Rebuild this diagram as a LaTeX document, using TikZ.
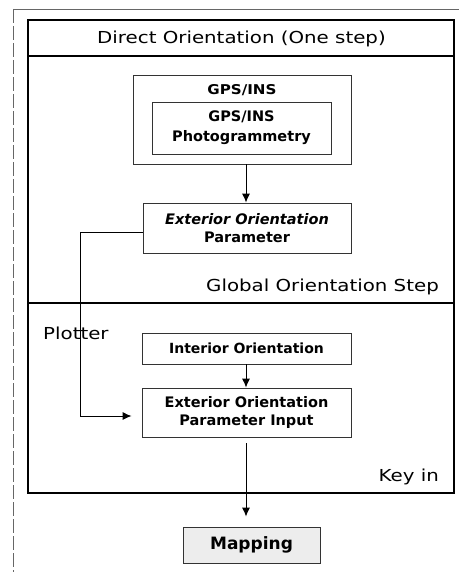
\documentclass[tikz,border=0pt]{standalone}
\usepackage{fontspec}
\setmainfont{DejaVu Sans}
\usetikzlibrary{arrows.meta}
\newcommand{\widetxt}[1]{\scalebox{1.2}[1]{#1}}
\tikzset{
  frame/.style={draw=black, line width=1.3pt},
  box/.style={draw=black!80, line width=0.9pt, inner sep=0pt, align=center},
  lbl/.style={inner sep=0pt, font=\fontsize{16.5}{18}\selectfont},
  bt/.style={font=\fontsize{14.5}{18}\selectfont\bfseries},
  arr/.style={-{Latex[length=9pt,width=8pt]}, line width=0.9pt},
}
\begin{document}
\begin{tikzpicture}[x=1pt,y=-1pt]
\useasboundingbox (0,0) rectangle (459,572);
% outer scan frame
\draw[black!60, line width=0.8pt] (13,9) -- (459,9);
\draw[black!60, line width=0.8pt, dash pattern=on 14pt off 3pt] (13,9) -- (13,572);
% main frame
\draw[frame] (28,20) rectangle (454,493);
\draw[frame] (28,56) -- (454,56);
\draw[frame] (28,303) -- (454,303);
% labels
\node[lbl] (title) at (241.5,39) {\widetxt{Direct Orientation (One step)}};
\node[lbl, anchor=east] (glob) at (439,287) {\widetxt{Global Orientation Step}};
\node[lbl, anchor=west] (plot) at (43,333) {\widetxt{Plotter}};
\node[lbl, anchor=east] (key) at (439,477) {\widetxt{Key in}};
% GPS boxes
\node[box, minimum width=218pt, minimum height=89pt] (gps) at (242,119.5) {};
\node[inner sep=0pt, font=\fontsize{13.5}{16}\selectfont\bfseries] (gpst) at (242,90) {\scalebox{1.12}[1]{GPS/INS}};
\node[box, minimum width=179pt, minimum height=52pt, font=\fontsize{14.5}{20}\selectfont\bfseries] (gpsin) at (241.5,128) {GPS/INS\\Photogrammetry};
% EOP
\node[box, minimum width=208pt, minimum height=50pt, bt] (eop) at (247,228) {\textit{Exterior Orientation}\\Parameter};
% Interior
\node[box, minimum width=209pt, minimum height=31pt, font=\fontsize{14}{18}\selectfont\bfseries] (io) at (246.5,348.5) {Interior Orientation};
% EOPI
\node[box, minimum width=209pt, minimum height=49pt, bt] (eopi) at (246.5,412.5) {Exterior Orientation\\Parameter Input};
% Mapping
\node[box, fill=black!7, minimum width=137pt, minimum height=36pt, font=\fontsize{17}{20}\selectfont\bfseries] (map) at (251.5,545) {Mapping};
% connectors
\coordinate (c1) at (80,232);
\coordinate (c2) at (80,416);
\draw[arr] (gps.south -| 246,0) -- (eop.north -| 246,0);
\draw[line width=0.9pt] (eop.west |- c1) -- (c1) -- (c2);
\draw[arr, shorten >=10pt] (c2) -- (eopi.west |- c2);
\draw[arr] (io.south -| 246,0) -- (eopi.north -| 246,0);
\draw[arr, shorten <=6pt, shorten >=10pt] (eopi.south -| 246,0) -- (map.north -| 246,0);
\end{tikzpicture}
\end{document}
